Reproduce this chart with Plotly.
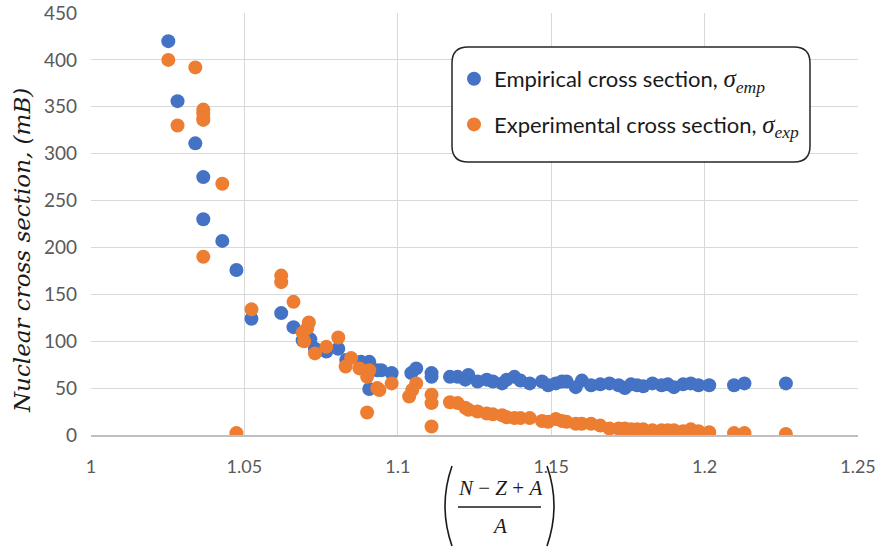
import plotly.graph_objects as go

# ---------------- data ----------------
emp_x = [1.0252, 1.0282, 1.0340, 1.0366, 1.0366, 1.0428, 1.0474, 1.0523, 1.0620, 1.0660,
         1.0690, 1.0715, 1.0730, 1.0767, 1.0806, 1.0832, 1.0880, 1.0907, 1.0907, 1.0933,
         1.0946, 1.0980, 1.1044, 1.1060, 1.1110, 1.1110, 1.1170, 1.1195, 1.1220, 1.1230,
         1.1260, 1.1290, 1.1310, 1.1340, 1.1355, 1.1380, 1.1400, 1.1430, 1.1470, 1.1490,
         1.1515, 1.1535, 1.1550, 1.1580, 1.1600, 1.1630, 1.1660, 1.1690, 1.1720, 1.1740,
         1.1760, 1.1780, 1.1800, 1.1830, 1.1860, 1.1880, 1.1900, 1.1930, 1.1955, 1.1980,
         1.2015, 1.2096, 1.2130, 1.2265]
emp_y = [420, 356, 311, 275, 230, 207, 176, 124, 130, 115,
         101, 102, 92, 89, 92, 80, 78, 78, 49, 69,
         69, 66, 66, 71, 66, 62, 62, 62, 59, 64,
         57, 59, 57, 55, 59, 62, 58, 55, 57, 53,
         55, 57, 57, 51, 58, 53, 54, 55, 53, 50,
         54, 53, 52, 55, 53, 54, 51, 54, 55, 53,
         53, 53, 55, 55]

exp_x = [1.0252, 1.0282, 1.0340, 1.0366, 1.0366, 1.0366, 1.0366, 1.0366, 1.0428, 1.0474,
         1.0523, 1.0620, 1.0620, 1.0660, 1.0690, 1.0695, 1.0705, 1.0710, 1.0730, 1.0767,
         1.0806, 1.0830, 1.0848, 1.0875, 1.0900, 1.0907, 1.0900, 1.0933, 1.0940, 1.0980,
         1.1037, 1.1047, 1.1060, 1.1110, 1.1110, 1.1110, 1.1170, 1.1195, 1.1220, 1.1230,
         1.1260, 1.1290, 1.1310, 1.1340, 1.1355, 1.1380, 1.1400, 1.1430, 1.1470, 1.1490,
         1.1515, 1.1535, 1.1550, 1.1580, 1.1600, 1.1630, 1.1660, 1.1690, 1.1720, 1.1740,
         1.1760, 1.1780, 1.1800, 1.1830, 1.1860, 1.1880, 1.1900, 1.1930, 1.1955, 1.1980,
         1.2015, 1.2096, 1.2130, 1.2265]
exp_y = [400, 330, 392, 347, 343, 338, 336, 190, 268, 2,
         134, 170, 163, 142, 109, 100, 114, 120, 87, 94,
         104, 73, 82, 71, 62, 69, 24, 50, 48, 55,
         41, 48, 55, 43, 34, 9, 35, 34, 29, 27,
         25, 23, 22, 21, 19, 18, 18, 18, 15, 14,
         17, 15, 14, 12, 12, 12, 10, 7, 7, 7,
         6, 6, 6, 5, 5, 5, 5, 4, 6, 4,
         3, 2, 2, 1]

x_ticks = [1, 1.05, 1.1, 1.15, 1.2, 1.25]
y_ticks = [0, 50, 100, 150, 200, 250, 300, 350, 400, 450]

BLUE = "#4472C4"
ORANGE = "#ED7D31"

# ---------------- layout geometry ----------------
W, H = 883, 552
L, T = 91, 13            # plot area (page body margin is removed below)
PW, PH = 767, 422
R, B = W - L - PW, H - T - PH


def px(xr, yr):
    """reference-picture pixel -> paper coordinates"""
    return (xr - L) / PW, (H - B - yr) / PH


fig = go.Figure()
fig.add_trace(go.Scatter(
    x=emp_x, y=emp_y, mode="markers", legendgroup="a",
    name="Empirical cross section, <span style='font-family:Liberation Serif;font-size:25px'><i>σ<sub>emp</sub></i></span>",
    marker=dict(color=BLUE, size=14, line=dict(width=0)),
    hoverinfo="skip"))
fig.add_trace(go.Scatter(
    x=exp_x, y=exp_y, mode="markers", legendgroup="b",
    name="Experimental cross section, <span style='font-family:Liberation Serif;font-size:25px'><i>σ<sub>exp</sub></i></span>",
    marker=dict(color=ORANGE, size=14, line=dict(width=0)),
    hoverinfo="skip"))

# rounded legend box
x0, y0 = px(452, 162)
x1, y1 = px(810, 47)
rx, ry = 16 / PW, 16 / PH
box = (f"M {x0+rx},{y0} L {x1-rx},{y0} Q {x1},{y0} {x1},{y0+ry} "
       f"L {x1},{y1-ry} Q {x1},{y1} {x1-rx},{y1} L {x0+rx},{y1} "
       f"Q {x0},{y1} {x0},{y1-ry} L {x0},{y0+ry} Q {x0},{y0} {x0+rx},{y0} Z")

shapes = [dict(type="path", path=box, xref="paper", yref="paper",
               line=dict(color="#262626", width=1.5), fillcolor="white", layer="above")]

# x-axis title: fraction in large parentheses
fx0, fy = px(458, 507)
fx1, _ = px(541, 507)
shapes.append(dict(type="line", xref="paper", yref="paper", x0=fx0, x1=fx1, y0=fy, y1=fy,
                   line=dict(color="#1a1a1a", width=1.5)))
lp0 = px(452, 466); lpc = px(438, 506); lp1 = px(452, 546)
rp0 = px(547, 466); rpc = px(561, 506); rp1 = px(547, 546)
shapes.append(dict(type="path", xref="paper", yref="paper",
                   path=f"M {lp0[0]},{lp0[1]} Q {lpc[0]},{lpc[1]} {lp1[0]},{lp1[1]}",
                   line=dict(color="#1a1a1a", width=1.6)))
shapes.append(dict(type="path", xref="paper", yref="paper",
                   path=f"M {rp0[0]},{rp0[1]} Q {rpc[0]},{rpc[1]} {rp1[0]},{rp1[1]}",
                   line=dict(color="#1a1a1a", width=1.6)))

serif = dict(family="Liberation Serif", size=21, color="#1a1a1a")
nx, ny = px(499.5, 488)
dx, dy = px(499.5, 526)
tx, ty = px(22, 251)
annotations = [
    dict(text="<i>N</i> − <i>Z</i> + <i>A</i>", x=nx, y=ny, xref="paper", yref="paper",
         showarrow=False, font=serif, xanchor="center", yanchor="middle"),
    dict(text="<i>A</i>", x=dx, y=dy, xref="paper", yref="paper",
         showarrow=False, font=serif, xanchor="center", yanchor="middle"),
    dict(text="<i>Nuclear cross section, (mB)</i>", x=tx, y=ty, xref="paper", yref="paper",
         showarrow=False, textangle=-90, xanchor="center", yanchor="middle",
         font=dict(family="DejaVu Serif", size=23, color="#1a1a1a")),
]

lx, ly = px(454, 58)
fig.update_layout(
    width=W, height=H,
    margin=dict(l=L, r=R, t=T, b=B, autoexpand=False),
    paper_bgcolor="white", plot_bgcolor="white",
    font=dict(family="Lato", size=18, color="#595959"),
    showlegend=True,
    legend=dict(x=lx, y=ly, xanchor="left", yanchor="top", bgcolor="rgba(0,0,0,0)",
                font=dict(family="Lato", size=22, color="#1a1a1a"),
                tracegroupgap=14, itemsizing="trace"),
    xaxis=dict(range=[1, 1.25], tickvals=x_ticks, ticktext=[f"{v:g}" for v in x_ticks],
               showgrid=True, gridcolor="#d9d9d9", gridwidth=1, automargin=False,
               zeroline=False, showline=True, linecolor="#bfbfbf", linewidth=1.5,
               ticks="", ticklabelstandoff=15, ticklabeloverflow="allow",
               tickfont=dict(family="Lato", size=18, color="#595959")),
    yaxis=dict(range=[0, 450], tickvals=y_ticks, automargin=False,
               showgrid=True, gridcolor="#d9d9d9", gridwidth=1,
               zeroline=False, showline=False, ticks="", ticklabelstandoff=13,
               ticklabeloverflow="allow",
               tickfont=dict(family="Lato", size=19, color="#595959")),
    shapes=shapes,
    annotations=annotations,
)

fig.write_html("out.html",
               config={"displayModeBar": False},
               post_script="document.body.style.margin='0px';document.body.style.overflow='hidden';")
